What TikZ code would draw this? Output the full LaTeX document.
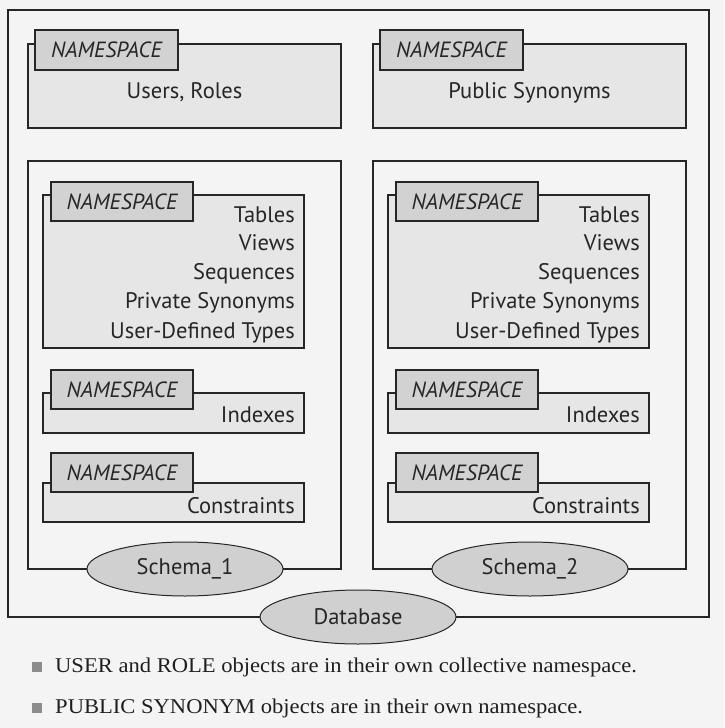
\documentclass[tikz,border=0pt]{standalone}
\usepackage{fontspec}
\setsansfont{PT Sans}
\setmainfont{Liberation Serif}
\usetikzlibrary{shapes.geometric}
\definecolor{bg}{HTML}{F4F4F4}
\definecolor{ln}{HTML}{262626}
\definecolor{boxfill}{HTML}{E6E6E6}
\definecolor{tabfill}{HTML}{D2D2D3}
\definecolor{ellfill}{HTML}{D0D0D0}
\definecolor{bul}{HTML}{8C8C8C}
\tikzset{
  container/.style={draw=ln, line width=1.6pt},
  nsbox/.style={draw=ln, line width=1.6pt, fill=boxfill},
  nstab/.style={draw=ln, line width=1.6pt, fill=tabfill},
  tablabel/.style={font=\sffamily\itshape\fontsize{22}{24}\selectfont, text=ln, inner sep=0pt},
  item/.style={font=\sffamily\fontsize{22.5}{24}\selectfont, text=ln, inner sep=0pt, anchor=base east},
  oval/.style={ellipse, draw=ln, line width=1pt, fill=ellfill, minimum width=196pt, minimum height=54pt, inner sep=0pt,
    font=\sffamily\fontsize{22.5}{24}\selectfont, text=ln},
  note/.style={font=\fontsize{21}{24}\selectfont, text=black!88, inner sep=0pt, anchor=base west},
}
\begin{document}
\begin{tikzpicture}[x=1pt,y=-1pt]
\fill[bg] (0,0) rectangle (724,728);
\useasboundingbox (0,0) rectangle (724,728);
% database
\draw[container] (8,10) rectangle (709,617);
% top namespaces
\foreach \dx/\txt/\nm in {0/{Users, Roles}/ur, 345/{Public Synonyms}/ps}{
  \begin{scope}[xshift=\dx]
  \draw[nsbox] (28,44) rectangle (341,128);
  \draw[nstab] (35,30) rectangle (178,70);
  \node[tablabel] (tab-\nm) at (106.5,50) {NAMESPACE};
  \node[item, anchor=base] (lbl-\nm) at (184.5,98) {\txt};
  \end{scope}
}
% schemas
\foreach \dx/\s in {0/1, 345/2}{
  \begin{scope}[xshift=\dx]
  \draw[container] (28,161) rectangle (341,569);
  \draw[nsbox] (43,195) rectangle (304,348);
  \draw[nstab] (51,182) rectangle (193,221);
  \node[tablabel] (tA-\s) at (122,202) {NAMESPACE};
  \node[item] (tables-\s) at (295,222) {Tables};
  \node[item] (views-\s) at (295,250) {Views};
  \node[item] (seq-\s) at (295,279) {Sequences};
  \node[item] (ps-\s) at (295,308) {Private Synonyms};
  \node[item] (udt-\s) at (295,338) {User-Defined Types};
  \draw[nsbox] (43,393) rectangle (304,433);
  \draw[nstab] (51,370) rectangle (193,409);
  \node[tablabel] (tB-\s) at (122,390) {NAMESPACE};
  \node[item] (idx-\s) at (295,422) {Indexes};
  \draw[nsbox] (43,483) rectangle (304,522);
  \draw[nstab] (51,453) rectangle (193,492);
  \node[tablabel] (tC-\s) at (122,473) {NAMESPACE};
  \node[item] (con-\s) at (295,513) {Constraints};
  \node[oval] (schema-\s) at (185,569) {Schema\_\s};
  \end{scope}
}
\node[oval] (db) at (358,617) {Database};
% notes
\fill[bul] (32,662) rectangle (42,672);
\fill[bul] (32,703) rectangle (42,713);
\node[note] (n1) at (55,672) {\scalebox{1.075}[1]{USER and ROLE objects are in their own collective namespace.}};
\node[note] (n2) at (55,713) {\scalebox{1.075}[1]{PUBLIC SYNONYM objects are in their own namespace.}};
\end{tikzpicture}
\end{document}
